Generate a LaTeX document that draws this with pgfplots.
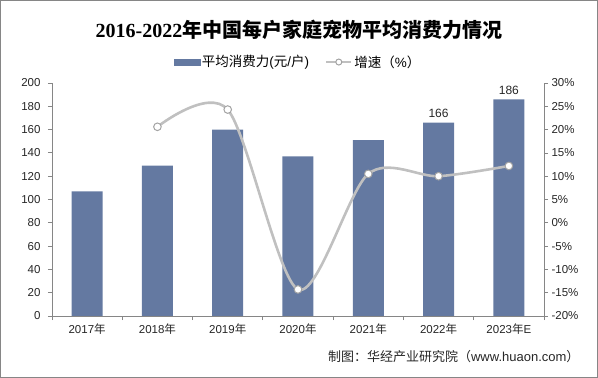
\documentclass[border=0pt]{standalone}
\usepackage{pgfplots}
\pgfplotsset{compat=1.18}
\usepackage{fontspec}
\setmainfont{Liberation Sans}
\newfontfamily\cjk{Noto Sans CJK SC}
\newfontfamily\serifnum{Liberation Serif}
\definecolor{barcol}{RGB}{100,121,161}
\definecolor{linecol}{RGB}{192,192,192}
\definecolor{axcol}{RGB}{134,134,134}
\begin{document}
\begin{tikzpicture}[x=1pt,y=1pt]
\path[use as bounding box] (0,0) rectangle (598,378);
\draw[color=axcol, line width=1pt] (0.5,0.5) rectangle (597.5,377.5);
\node[font=\fontsize{20}{24}\selectfont] at (299,348) {{\serifnum\bfseries 2016-2022}{\cjk\bfseries 年中国每户家庭宠物平均消费力情况}};
\node[anchor=east, font=\fontsize{13}{15}\selectfont, text=black!85] at (583,21) {{\cjk 制图：华经产业研究院（}www.huaon.com{\cjk ）}};
\begin{axis}[
  at={(52pt,62pt)}, anchor=south west, scale only axis,
  width=492pt, height=233pt,
  xmin=-0.5, xmax=6.5, ymin=0, ymax=200,
  axis x line*=bottom, axis y line*=left,
  axis line style={-, axcol, line width=0.8pt},
  xtick={0,...,6},
  xticklabels={2017{\cjk 年},2018{\cjk 年},2019{\cjk 年},2020{\cjk 年},2021{\cjk 年},2022{\cjk 年},2023{\cjk 年}E},
  major x tick style={draw=none},
  minor xtick={-0.5,0.5,...,6.5},
  ytick={0,20,...,200},
  tick align=outside, major tick length=4pt, minor tick length=4pt,
  tick style={axcol, line width=0.8pt},
  ticklabel style={font=\fontsize{11.5}{13}\selectfont, text=black!85},
  yticklabel style={xshift=-4pt},
  /pgf/number format/assume math mode=true,
  clip=false,
]
\addplot[ybar, bar width=31pt, fill=barcol, draw=none] coordinates {(0,107) (1,129) (2,160) (3,137) (4,151) (5,166) (6,186)};
\addplot[draw=none, mark=none, nodes near coords, point meta=y,
  nodes near coords style={anchor=south, yshift=1pt, font=\fontsize{12}{14}\selectfont, text=black!85}]
  coordinates {(5,166) (6,186)};
\end{axis}
\begin{axis}[
  at={(52pt,62pt)}, anchor=south west, scale only axis,
  width=492pt, height=233pt,
  xmin=-0.5, xmax=6.5, ymin=-20, ymax=30,
  ytick={-20,-15,...,30},
  axis x line=none, axis y line*=right,
  axis line style={-, axcol, line width=0.8pt},
  tick align=outside, major tick length=4pt,
  tick style={axcol, line width=0.8pt},
  ticklabel style={font=\fontsize{11.5}{13}\selectfont, text=black!85},
  yticklabel={\pgfmathprintnumber{\tick}\%},
  /pgf/number format/assume math mode=true,
  legend style={at={(0.5,1.09)}, anchor=center, draw=none, fill=none,
    legend columns=2, font=\fontsize{13.5}{15}\selectfont,
    /tikz/every even column/.append style={column sep=14pt}},
  clip=false,
]
\addlegendimage{legend image code/.code={\fill[barcol] (0pt,-3pt) rectangle (26pt,3pt);}}
\addlegendentry{{\cjk 平均消费力}({\cjk 元}/{\cjk 户})}
\addplot[smooth, color=linecol, line width=2.6pt, mark=*, mark size=3.8pt,
  mark options={fill=white, draw=linecol!85!black, line width=1pt},
  legend image code/.code={\draw[linecol, line width=2.2pt] (0pt,0pt) -- (25pt,0pt); \draw[linecol!85!black, fill=white, line width=1pt] (12.5pt,0pt) circle (3pt);}]
  coordinates {(1,20.6) (2,24.3) (3,-14.3) (4,10.5) (5,10.0) (6,12.2)};
\addlegendentry{{\cjk 增速（}\%{\cjk ）}}
\end{axis}
\end{tikzpicture}
\end{document}
